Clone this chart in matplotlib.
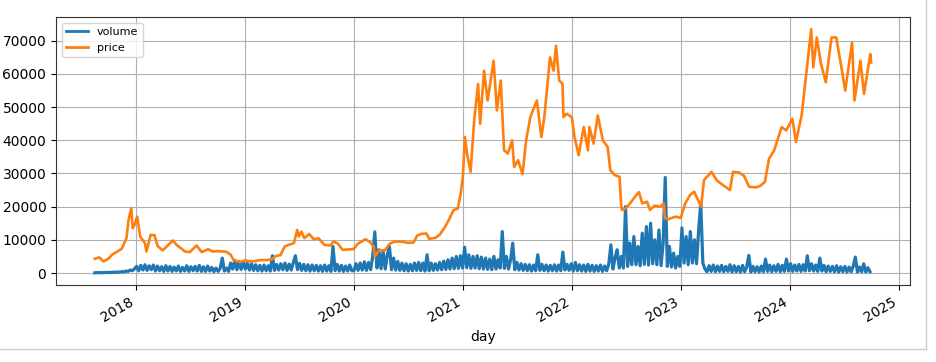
import numpy as np
import pandas as pd
import matplotlib
matplotlib.use("Agg")
import matplotlib.pyplot as plt
import matplotlib.dates as mdates
from matplotlib.lines import Line2D

# ---------------- data ----------------
price_days = [
    "2017-08-17", "2017-09-01", "2017-09-15", "2017-10-01", "2017-10-15", "2017-11-01",
    "2017-11-15", "2017-12-01", "2017-12-08", "2017-12-17", "2017-12-22", "2017-12-28",
    "2018-01-06", "2018-01-16", "2018-02-01", "2018-02-06", "2018-02-20", "2018-03-05",
    "2018-03-15", "2018-04-01", "2018-04-15", "2018-05-05", "2018-05-20", "2018-06-01",
    "2018-06-15", "2018-07-01", "2018-07-24", "2018-08-10", "2018-09-01", "2018-09-15",
    "2018-10-01", "2018-10-15", "2018-11-01", "2018-11-15", "2018-11-25", "2018-12-15",
    "2019-01-01", "2019-01-15", "2019-02-01", "2019-02-20", "2019-03-15", "2019-04-01",
    "2019-04-15", "2019-05-01", "2019-05-15", "2019-06-01", "2019-06-15", "2019-06-26",
    "2019-07-01", "2019-07-10", "2019-07-20", "2019-08-05", "2019-08-20", "2019-09-05",
    "2019-09-25", "2019-10-15", "2019-10-26", "2019-11-10", "2019-11-25", "2019-12-15",
    "2020-01-01", "2020-01-15", "2020-02-10", "2020-02-25", "2020-03-08", "2020-03-12",
    "2020-03-25", "2020-04-15", "2020-05-01", "2020-05-15", "2020-06-01", "2020-06-15",
    "2020-07-01", "2020-07-20", "2020-08-01", "2020-08-15", "2020-09-01", "2020-09-10",
    "2020-10-01", "2020-10-15", "2020-11-01", "2020-11-15", "2020-12-01", "2020-12-15",
    "2020-12-25", "2021-01-01", "2021-01-08", "2021-01-15", "2021-01-27", "2021-02-08",
    "2021-02-21", "2021-02-28", "2021-03-13", "2021-03-25", "2021-04-14", "2021-04-25",
    "2021-05-08", "2021-05-19", "2021-06-01", "2021-06-15", "2021-06-22", "2021-07-05",
    "2021-07-20", "2021-08-01", "2021-08-15", "2021-09-06", "2021-09-21", "2021-10-01",
    "2021-10-20", "2021-11-01", "2021-11-09", "2021-11-20", "2021-12-01", "2021-12-04",
    "2021-12-15", "2022-01-01", "2022-01-10", "2022-01-24", "2022-02-10", "2022-02-24",
    "2022-03-01", "2022-03-15", "2022-03-29", "2022-04-15", "2022-05-01", "2022-05-10",
    "2022-05-25", "2022-06-10", "2022-06-15", "2022-06-18", "2022-07-01", "2022-07-15",
    "2022-08-01", "2022-08-14", "2022-08-25", "2022-09-10", "2022-09-20", "2022-10-05",
    "2022-10-25", "2022-11-05", "2022-11-09", "2022-11-20", "2022-12-15", "2023-01-01",
    "2023-01-15", "2023-02-01", "2023-02-15", "2023-03-10", "2023-03-20", "2023-04-14",
    "2023-05-01", "2023-05-15", "2023-06-15", "2023-06-25", "2023-07-15", "2023-08-01",
    "2023-08-18", "2023-09-10", "2023-09-25", "2023-10-10", "2023-10-24", "2023-11-10",
    "2023-12-05", "2023-12-20", "2024-01-10", "2024-01-22", "2024-02-10", "2024-02-28",
    "2024-03-05", "2024-03-13", "2024-03-20", "2024-04-01", "2024-04-15", "2024-05-01",
    "2024-05-20", "2024-06-05", "2024-06-25", "2024-07-05", "2024-07-28", "2024-08-05",
    "2024-08-15", "2024-08-25", "2024-09-06", "2024-09-27", "2024-09-30",
]
price = [
    4300, 4700, 3500, 4300, 5600, 6500,
    7300, 10500, 16000, 19500, 13500, 14500,
    17000, 11000, 9000, 6500, 11500, 11400,
    8200, 6800, 8000, 9800, 8300, 7500,
    6500, 6300, 8300, 6300, 7200, 6500,
    6600, 6500, 6400, 5500, 3900, 3300,
    3800, 3600, 3500, 3900, 3900, 4100,
    5100, 5400, 8000, 8600, 9000, 13000,
    11000, 12500, 10500, 11800, 10200, 10500,
    8500, 8300, 9500, 8800, 7000, 7100,
    7200, 8800, 10200, 9300, 8000, 4900,
    6700, 6900, 8800, 9400, 9500, 9400,
    9100, 9200, 11300, 11800, 11900, 10300,
    10600, 11500, 13700, 16000, 19000, 19400,
    24000, 29000, 41000, 36000, 30500, 46000,
    57000, 45000, 61000, 52000, 64000, 49000,
    58000, 37000, 36000, 40000, 32000, 34000,
    29800, 40000, 47000, 52000, 41000, 47000,
    65000, 61000, 68500, 58000, 57000, 47000,
    48000, 47000, 41000, 35500, 44000, 37000,
    44000, 39000, 47500, 40000, 38000, 31000,
    29500, 29000, 21000, 19000, 19500, 21000,
    23000, 24400, 21000, 21500, 19000, 20300,
    20000, 21000, 16500, 16200, 17000, 16600,
    20800, 23500, 24500, 20000, 28000, 30500,
    28000, 27000, 25000, 30500, 30300, 29300,
    26000, 25800, 26300, 27500, 34500, 37000,
    44000, 43000, 46500, 39500, 47500, 62000,
    67000, 73500, 62000, 71000, 63000, 57500,
    71000, 71000, 60500, 55000, 69500, 52000,
    58000, 64000, 54000, 66000, 63500,
]

# weekly volume readings starting 2017-08-17
volume_start = "2017-08-17"
volume_2017 = [60, 120, 80, 150, 100, 180, 130, 220, 160, 260,
               200, 320, 250, 420, 350, 600, 500, 900, 700, 1300]
volume_2018 = [2000, 700, 2300, 900, 2500, 800, 2200, 1000, 2400, 600,
               2100, 700, 1900, 500, 2200, 600, 2000, 500, 1800, 600,
               2100, 500, 1700, 600, 2200, 500, 1900, 700, 2000, 600,
               2300, 500, 1900, 500, 2100, 600, 1700, 400, 1500, 500,
               1400, 4500, 600, 1500, 500, 3000, 1200, 3800, 1000, 3400,
               1100, 3200]
volume_2019 = [1200, 3000, 900, 2800, 800, 2500, 700, 2300, 600, 2400,
               700, 2200, 600, 5200, 800, 2600, 900, 2800, 1000, 3000,
               800, 2700, 900, 3200, 5200, 1000, 2900, 800, 2600, 700,
               2500, 600, 2400, 700, 2300, 600, 2200, 500, 2400, 600,
               2200, 500, 8000, 700, 2600, 600, 2300, 500, 2100, 600,
               2400, 700]
volume_2020 = [700, 2800, 800, 3000, 900, 3400, 800, 3200, 1000, 5000,
               12400, 1500, 7000, 1300, 6500, 1200, 5500, 8000, 1000, 4500,
               900, 3500, 800, 3000, 700, 2800, 600, 2600, 700, 3000,
               800, 3200, 700, 3000, 600, 5500, 700, 3000, 800, 2800,
               900, 3200, 1000, 3600, 1100, 4000, 1200, 4500, 1300, 5000,
               1400, 5200]
volume_2021 = [1500, 7800, 1600, 5500, 1400, 5000, 1500, 5200, 1300, 4800,
               1200, 4500, 1100, 4200, 1000, 5000, 1200, 4000, 1500, 12500,
               1400, 5000, 1200, 4000, 9000, 1000, 3200, 900, 2800, 800,
               2600, 700, 2500, 600, 2400, 700, 5500, 800, 2600, 700,
               2400, 600, 2300, 700, 2500, 600, 2400, 700, 6300, 900,
               2600, 800]
volume_2022 = [2800, 600, 3200, 700, 2500, 600, 2400, 500, 2600, 600,
               2300, 500, 2200, 600, 2400, 500, 2100, 700, 2800, 8500,
               1200, 4500, 7000, 1500, 5000, 1500, 20000, 2000, 9000, 2500,
               11000, 2500, 8000, 2200, 12000, 2600, 14000, 2400, 15000, 2800,
               10000, 2500, 13000, 2200, 9000, 28800, 2000, 8000, 1800, 6000,
               1500, 5000]
volume_2023 = [2000, 13600, 3000, 11000, 2500, 12500, 3000, 10000, 2800, 13000,
               21000, 3000, 1200, 400, 2200, 500, 2400, 400, 2100, 500,
               2300, 400, 2000, 500, 2500, 300, 2200, 400, 2000, 300,
               2300, 400, 1800, 5300, 300, 2000, 400, 1900, 300, 2100,
               400, 4200, 500, 2400, 400, 2200, 500, 2600, 400, 2300,
               500, 4200]
volume_2024 = [600, 2800, 500, 2400, 600, 2600, 500, 2500, 600, 5200,
               700, 2800, 600, 2400, 500, 4500, 600, 2300, 400, 2100,
               500, 2000, 400, 2200, 300, 1900, 400, 2000, 300, 1800,
               400, 2100, 4800, 300, 1800, 400, 2800, 300, 1600, 400]

volume = (volume_2017 + volume_2018 + volume_2019 + volume_2020
          + volume_2021 + volume_2022 + volume_2023 + volume_2024)
volume_days = pd.date_range(volume_start, periods=len(volume), freq="7D")

# ---------------- figure ----------------
fig = plt.figure(figsize=(9.36, 3.62), dpi=100)
ax = fig.add_axes([56 / 936, 1 - 285 / 362, (910 - 56) / 936, (285 - 17) / 362])

ax.plot(volume_days, volume, color="C0", lw=2.3, label="volume")
ax.plot(pd.to_datetime(price_days), price, color="C1", lw=1.9, label="price")

ax.xaxis.set_major_locator(mdates.YearLocator())
ax.xaxis.set_major_formatter(mdates.DateFormatter("%Y"))
ax.xaxis.set_minor_locator(matplotlib.ticker.NullLocator())
for lbl in ax.get_xticklabels():
    lbl.set_rotation(30)
    lbl.set_ha("right")
ax.set_xlabel("day")
ax.grid(True)
for sp in ax.spines.values():
    sp.set_color("#333333")
leg = ax.legend(loc="upper left", fontsize=8)
for h in leg.get_lines():
    h.set_linewidth(2)

# notebook output frame
fig.add_artist(Line2D([0, 926 / 936], [1 - 349 / 362, 1 - 349 / 362],
                      transform=fig.transFigure, color="#cccccc", lw=1))
fig.add_artist(Line2D([926 / 936, 926 / 936], [1 - 349 / 362, 1],
                      transform=fig.transFigure, color="#cccccc", lw=1))

fig.savefig("out.png", dpi=100)
